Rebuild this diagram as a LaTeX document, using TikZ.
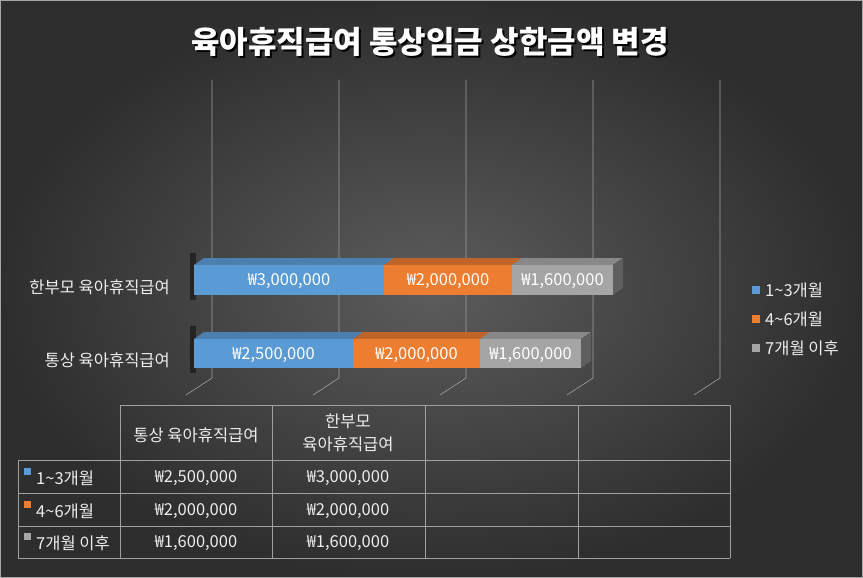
\documentclass[tikz,border=0pt]{standalone}
\usepackage{fontspec}
\setmainfont{Noto Sans CJK KR}
\usetikzlibrary{shadings}
\definecolor{cblue}{HTML}{5B9BD5}
\definecolor{cblueT}{HTML}{4A7FB0}
\definecolor{cor}{HTML}{ED7D31}
\definecolor{corT}{HTML}{C0652A}
\definecolor{cgr}{HTML}{A5A5A5}
\definecolor{cgrT}{HTML}{888888}
\definecolor{txt}{HTML}{EDEDED}
\definecolor{grid}{HTML}{A0A0A0}
\definecolor{bgin}{HTML}{5C5C5C}
\definecolor{bgout}{HTML}{2E2E2E}
\tikzset{
  lbl/.style={text=txt,font=\fontsize{16.5}{19}\selectfont,inner sep=0pt},
  val/.style={text=white,font=\fontsize{16.5}{19}\selectfont,inner sep=0pt},
  gl/.style={draw=grid,line width=0.6pt},
  tb/.style={draw=grid,line width=0.6pt},
}
\begin{document}
\begin{tikzpicture}[x=1pt,y=-1pt]
\useasboundingbox (0,0) rectangle (863,578);
\shade[inner color=bgin,outer color=bgout] (0,0) rectangle (863,578);
\draw[gray!70,line width=1pt] (0.5,0.5) rectangle (862.5,577.5);
% title
\node[text=black,font=\fontsize{31}{36}\selectfont\bfseries] at (432,44) {육아휴직급여 통상임금 상한금액 변경};
\node[text=white,font=\fontsize{31}{36}\selectfont\bfseries] (title) at (430,42) {육아휴직급여 통상임금 상한금액 변경};
% gridlines
\foreach \x in {212,339,466,593,720}{
  \draw[gl] (\x,80) -- (\x,378) -- (\x-26,395);
}
% shadows behind bars
\fill[black,opacity=0.45] (190,253) rectangle (196,300);
\fill[black,opacity=0.45] (190,326) rectangle (196,373);
% top bar
\foreach \a/\b/\c/\t/\s/\v in {194/384/cblue/cblueT/a1/{₩3,000,000}, 384/512/cor/corT/a2/{₩2,000,000}, 512/613/cgr/cgrT/a3/{₩1,600,000}}{
  \fill[\t] (\a,265) -- (\a+10,258) -- (\b+10,258) -- (\b,265) -- cycle;
  \fill[\c] (\a,265) rectangle (\b,295);
  \node[val] (\s) at ({(\a+\b)/2},281) {\v};
}
\fill[cgrT!70!black] (613,265) -- (623,258) -- (623,288) -- (613,295) -- cycle;
% bottom bar
\foreach \a/\b/\c/\t/\s/\v in {194/353/cblue/cblueT/b1/{₩2,500,000}, 353/480/cor/corT/b2/{₩2,000,000}, 480/581/cgr/cgrT/b3/{₩1,600,000}}{
  \fill[\t] (\a,339) -- (\a+10,332) -- (\b+10,332) -- (\b,339) -- cycle;
  \fill[\c] (\a,339) rectangle (\b,368);
  \node[val] (\s) at ({(\a+\b)/2},355) {\v};
}
\fill[cgrT!70!black] (581,339) -- (591,332) -- (591,361) -- (581,368) -- cycle;
% category labels
\node[lbl,anchor=east] (c1) at (170,287) {한부모 육아휴직급여};
\node[lbl,anchor=east] (c2) at (170,360) {통상 육아휴직급여};
% legend
\foreach \y/\c/\t/\n in {290/cblue/{1\textasciitilde3개월}/l1, 319/cor/{4\textasciitilde6개월}/l2, 348/cgr/{7개월 이후}/l3}{
  \fill[\c] (752,\y-4) rectangle (760,\y+4);
  \node[lbl,anchor=west] (\n) at (765,\y) {\t};
}
% table
\draw[tb] (120,405) -- (730,405);
\draw[tb] (18,460) -- (730,460);
\draw[tb] (18,493) -- (730,493);
\draw[tb] (18,526) -- (730,526);
\draw[tb] (18,558) -- (730,558);
\draw[tb] (18,460) -- (18,558);
\foreach \x in {120,272,425,578,730}{\draw[tb] (\x,405) -- (\x,558);}
\node[lbl] (h1) at (196,435) {통상 육아휴직급여};
\node[lbl,align=center] (h2) at (348,433) {한부모\\[4pt]육아휴직급여};
\foreach \y/\c/\t/\p/\q/\n in {478/cblue/{1\textasciitilde3개월}/{₩2,500,000}/{₩3,000,000}/r1, 511/cor/{4\textasciitilde6개월}/{₩2,000,000}/{₩2,000,000}/r2, 543/cgr/{7개월 이후}/{₩1,600,000}/{₩1,600,000}/r3}{
  \fill[\c] (24,\y-10) rectangle (31,\y-3);
  \node[lbl,anchor=west] (\n) at (36,\y) {\t};
  \node[lbl] (\n p) at (196,\y) {\p};
  \node[lbl] (\n q) at (348,\y) {\q};
}
\end{tikzpicture}
\end{document}
